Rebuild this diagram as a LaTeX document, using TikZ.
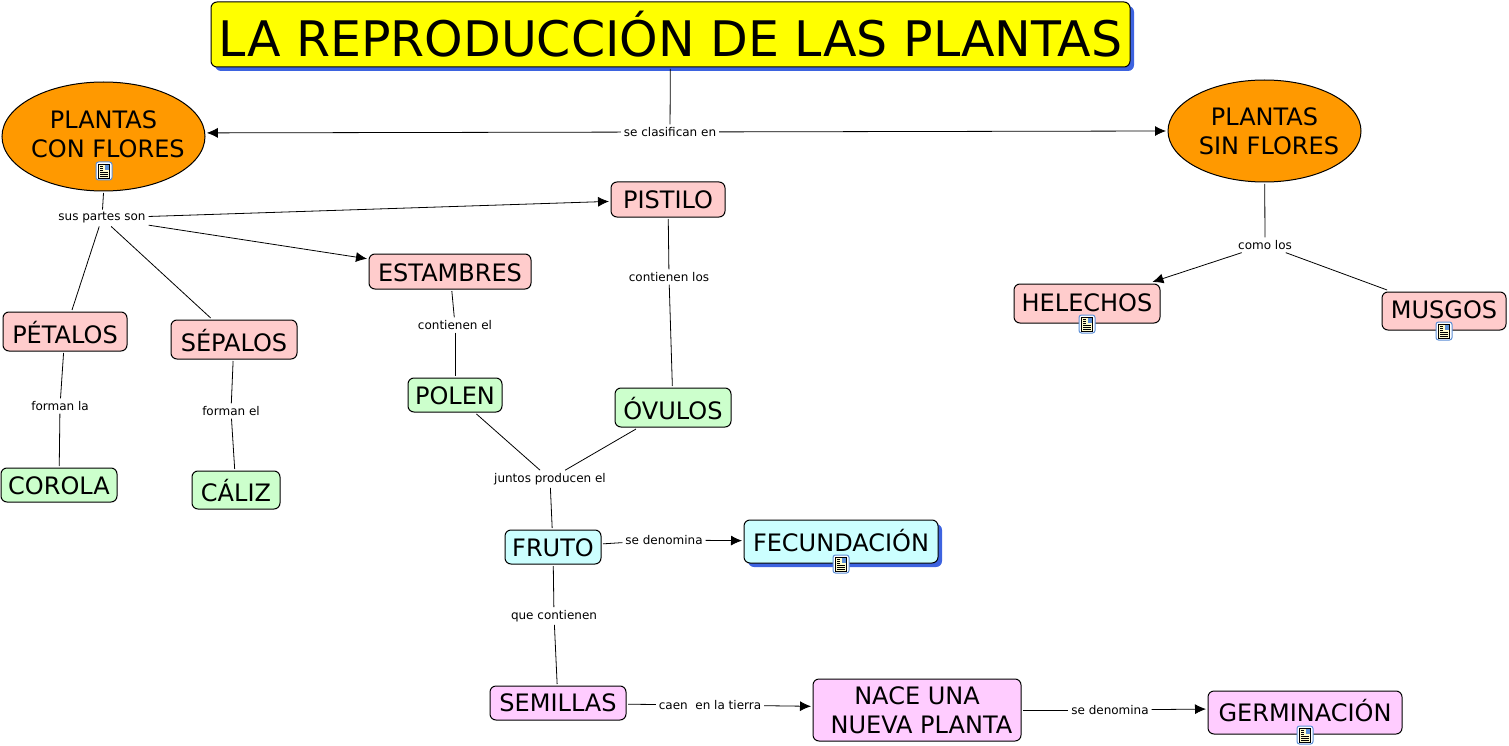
\documentclass[tikz,border=0pt]{standalone}
\usepackage{fontspec}
\setmainfont{DejaVu Sans}
\usepackage{tikz}
\usetikzlibrary{shadows,shapes.geometric,arrows.meta}

\definecolor{titlefill}{HTML}{FFFF00}
\definecolor{orangefill}{HTML}{FF9900}
\definecolor{pinkfill}{HTML}{FFCCCC}
\definecolor{greenfill}{HTML}{CCFFCC}
\definecolor{cyanfill}{HTML}{CCFFFF}
\definecolor{lilacfill}{HTML}{FFCCFF}
\definecolor{shadowblue}{HTML}{3D63E0}
\definecolor{iconblue}{HTML}{5C8FD6}

\tikzset{
  concept/.style={draw=black, line width=1pt, rounded corners=6pt, inner sep=0pt, outer sep=2pt, align=center,
    font=\fontsize{24}{29}\selectfont, text height=17.5pt, text depth=0pt},
  oval/.style={draw=black, line width=1pt, ellipse, inner xsep=-20pt, inner ysep=0pt, outer sep=2pt, align=center, fill=orangefill,
    font=\fontsize{24}{29}\selectfont},
  linklabel/.style={inner sep=1pt, outer sep=2pt, font=\fontsize{12}{14}\selectfont},
  backshadow/.style={drop shadow={shadow xshift=4pt, shadow yshift=-4pt, fill=shadowblue, opacity=1}},
  link/.style={draw=black, line width=0.8pt},
  arrowlink/.style={link, -{Latex[length=11pt,width=10pt]}}
}

\newcommand{\docicon}[2]{
  \begin{scope}[shift={(#1,#2)}]
  \draw[draw=iconblue, fill=white, line width=1pt, rounded corners=2.5pt] (-8,-9) rectangle (8,9);
  \draw[black, fill=yellow!20, line width=0.6pt] (-5.5,-7) rectangle (5.5,7);
  \fill[iconblue] (0.5,-6) rectangle (4.5,-1);
  \draw[black, line width=0.6pt] (-4,-5) -- (-1,-5) (-4,-3) -- (-1,-3) (-4,-1) -- (-1,-1)
    (-4,1) -- (4,1) (-4,3) -- (4,3) (-4,5) -- (4,5);
  \end{scope}
}

\begin{document}
\begin{tikzpicture}[x=1pt, y=-1pt]
\useasboundingbox (0,0) rectangle (1509,746);

\node[concept, backshadow, fill=titlefill, minimum width=919pt, minimum height=65pt,
  font=\fontsize{49}{59}\selectfont, text height=45pt] (title) at (670.5,34.5) {LA REPRODUCCIÓN DE LAS PLANTAS};

\node[oval, minimum width=203pt, minimum height=109pt] (conflores) at (103.5,136.5) {PLANTAS\\\hspace*{0.37em}CON FLORES\\[-25pt]};
\node[oval, minimum width=193pt, minimum height=102pt] (sinflores) at (1264.5,131) {PLANTAS\\\hspace*{0.37em}SIN FLORES};

\node[concept, fill=pinkfill, minimum width=114pt, minimum height=35pt] (pistilo) at (668,199.5) {PISTILO};
\node[concept, fill=pinkfill, minimum width=162pt, minimum height=35pt, text height=19pt] (estambres) at (450,271.5) {ESTAMBRES};
\node[concept, fill=pinkfill, minimum width=124pt, minimum height=39pt, text height=23pt] (petalos) at (65,331.5) {PÉTALOS};
\node[concept, fill=pinkfill, minimum width=126pt, minimum height=39pt, text height=23pt] (sepalos) at (234,339.5) {SÉPALOS};
\node[concept, fill=pinkfill, minimum width=146pt, minimum height=39pt, text depth=2pt] (helechos) at (1087,303.5) {HELECHOS};
\node[concept, fill=pinkfill, minimum width=124pt, minimum height=38pt, text depth=2pt] (musgos) at (1444,311) {MUSGOS};

\node[concept, fill=greenfill, minimum width=94pt, minimum height=34pt, text height=19pt] (polen) at (455,395) {POLEN};
\node[concept, fill=greenfill, minimum width=116pt, minimum height=39pt, text height=23pt] (ovulos) at (673,407.5) {ÓVULOS};
\node[concept, fill=greenfill, minimum width=116pt, minimum height=34pt, text height=19pt] (corola) at (59,485) {COROLA};
\node[concept, fill=greenfill, minimum width=88pt, minimum height=38pt, text height=23pt] (caliz) at (236,490) {CÁLIZ};

\node[concept, fill=cyanfill, minimum width=96pt, minimum height=34pt, text height=19pt] (fruto) at (553,547) {FRUTO};
\node[concept, backshadow, fill=cyanfill, minimum width=194pt, minimum height=43pt, text height=19pt] (fecundacion) at (841,541.5) {FECUNDACIÓN};

\node[concept, fill=lilacfill, minimum width=136pt, minimum height=34pt] (semillas) at (558,703) {SEMILLAS};
\node[concept, fill=lilacfill, minimum width=208pt, minimum height=62pt, text height=, text depth=] (nace) at (917,710) {NACE UNA\\\hspace*{0.37em}NUEVA PLANTA};
\node[concept, fill=lilacfill, minimum width=194pt, minimum height=43pt] (germinacion) at (1305,712.5) {GERMINACIÓN};

\node[linklabel] (clasifican) at (670,132) {se clasifican en};
\node[linklabel] (sus) at (102,218) {sus partes son};
\node[linklabel] (contlos) at (669,277) {contienen los};
\node[linklabel] (contel) at (455,325) {contienen el};
\node[linklabel] (como) at (1265,245) {como los};
\node[linklabel] (formanla) at (60,406) {forman la};
\node[linklabel] (formanel) at (231,411) {forman el};
\node[linklabel] (juntos) at (550,479) {juntos producen el};
\node[linklabel] (denfruto) at (664,540) {se denomina};
\node[linklabel] (quecont) at (554,616) {que contienen};
\node[linklabel] (caen) at (710,705) {caen\ \ en la tierra};
\node[linklabel] (dennace) at (1110,710) {se denomina};

\draw[link] (title) -- (clasifican);
\draw[arrowlink] (clasifican) -- (conflores.2);
\draw[arrowlink] (clasifican) -- (sinflores.west);
\draw[link] (conflores.south) -- (sus);
\draw[arrowlink] (sus) -- (pistilo);
\draw[arrowlink] (sus) -- (estambres);
\draw[link] (sus) -- (petalos);
\draw[link] (sus) -- (sepalos);
\draw[link] (pistilo) -- (contlos);
\draw[link] (contlos) -- (ovulos);
\draw[link] (estambres) -- (contel);
\draw[link] (contel) -- (polen);
\draw[link] (petalos) -- (formanla);
\draw[link] (formanla) -- (corola);
\draw[link] (sepalos) -- (formanel);
\draw[link] (formanel) -- (caliz);
\draw[link] (polen) -- (juntos);
\draw[link] (ovulos) -- (juntos);
\draw[link] (juntos) -- (fruto);
\draw[link] (fruto) -- (denfruto);
\draw[arrowlink] (denfruto) -- (fecundacion);
\draw[link] (fruto) -- (quecont);
\draw[link] (quecont) -- (semillas);
\draw[link] (semillas.-1.6) -- (caen);
\draw[arrowlink] (caen) -- (nace.178);
\draw[link] (nace) -- (dennace);
\draw[arrowlink] (dennace) -- (germinacion.178.5);
\draw[link] (sinflores) -- (como);
\draw[arrowlink] (como) -- (helechos);
\draw[link] (como) -- (musgos);

\docicon{104}{171}
\docicon{841}{564}
\docicon{1087}{324}
\docicon{1444}{331}
\docicon{1305}{735}
\end{tikzpicture}
\end{document}
